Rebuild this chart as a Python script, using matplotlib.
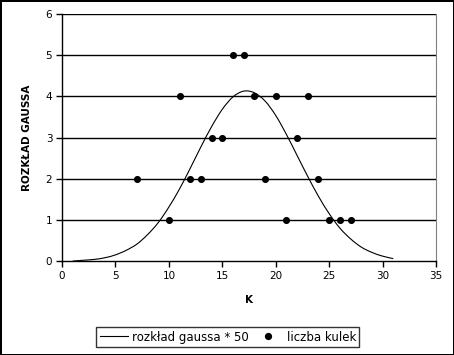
import matplotlib
matplotlib.use('Agg')
from matplotlib import pyplot as plt
from matplotlib.path import Path
from matplotlib.patches import PathPatch
from matplotlib.lines import Line2D

# liczba kulek w przegrodkach
k_vals = [7, 10, 11, 12, 13, 14, 15, 16, 17, 18, 19, 20, 21, 22, 23, 24, 25, 26, 27]
counts = [2, 1, 4, 2, 2, 3, 3, 5, 5, 4, 2, 4, 1, 3, 4, 2, 1, 1, 1]

# krzywa gaussa * 50
curve_x = list(range(1, 32))
curve_y = [0.01, 0.03, 0.05, 0.09, 0.16, 0.27, 0.42, 0.65, 0.94, 1.32,
           1.76, 2.26, 2.78, 3.27, 3.69, 3.99, 4.13, 4.09, 3.89, 3.54,
           3.08, 2.57, 2.06, 1.58, 1.16, 0.81, 0.55, 0.35, 0.22, 0.13, 0.07]


def smooth_path(xs, ys):
    """Catmull-Rom -> cubic bezier, like excel's smoothed line"""
    pts = list(zip(xs, ys))
    verts = [pts[0]]
    codes = [Path.MOVETO]
    n = len(pts)
    for i in range(n - 1):
        p0 = pts[i - 1] if i > 0 else pts[i]
        p1 = pts[i]
        p2 = pts[i + 1]
        p3 = pts[i + 2] if i + 2 < n else pts[i + 1]
        c1 = (p1[0] + (p2[0] - p0[0]) / 6, p1[1] + (p2[1] - p0[1]) / 6)
        c2 = (p2[0] - (p3[0] - p1[0]) / 6, p2[1] - (p3[1] - p1[1]) / 6)
        verts += [c1, c2, p2]
        codes += [Path.CURVE4] * 3
    return Path(verts, codes)


plt.rcParams['font.family'] = ['DejaVu Sans']
fig = plt.figure(figsize=(4.54, 3.55), dpi=100)
fig.patch.set_edgecolor('black')
fig.patch.set_linewidth(2)
ax = fig.add_axes([0.1366, 0.2634, 0.8238, 0.6972])

for y in range(1, 7):
    ax.axhline(y, color='black', lw=1, zorder=1)

ax.add_patch(PathPatch(smooth_path(curve_x, curve_y), fill=False,
                       edgecolor='black', lw=0.8, zorder=2))
ax.scatter(k_vals, counts, s=26, color='black', linewidths=0, zorder=3)

line = Line2D([], [], color='black', lw=0.8, label='rozkład gaussa * 50')
dot = Line2D([], [], color='black', ls='none', marker='o', markersize=4.2,
             label='liczba kulek')

ax.set_xlim(0, 35)
ax.set_ylim(0, 6)
ax.set_xticks(range(0, 36, 5))
ax.set_yticks(range(0, 7))
ax.tick_params(labelsize=7.5, length=4, width=1, direction='out', pad=3)
ax.spines['top'].set_visible(False)
ax.spines['right'].set_color('gray')
ax.spines['left'].set_linewidth(1)
ax.spines['bottom'].set_linewidth(1)

ax.set_xlabel('K', fontsize=7.5, fontweight='bold', labelpad=10)
ax.set_ylabel('ROZKŁAD GAUSSA', fontsize=7.5, fontweight='bold', labelpad=10)

leg = fig.legend(handles=[line, dot], loc='center', bbox_to_anchor=(0.502, 0.0507),
                 ncol=2, fontsize=8.5, frameon=True, fancybox=False,
                 edgecolor='black', handlelength=2.4, columnspacing=0.45,
                 borderpad=0.28, handletextpad=0.35, borderaxespad=0)
leg.get_frame().set_linewidth(1)

plt.savefig('out.png', dpi=100)
